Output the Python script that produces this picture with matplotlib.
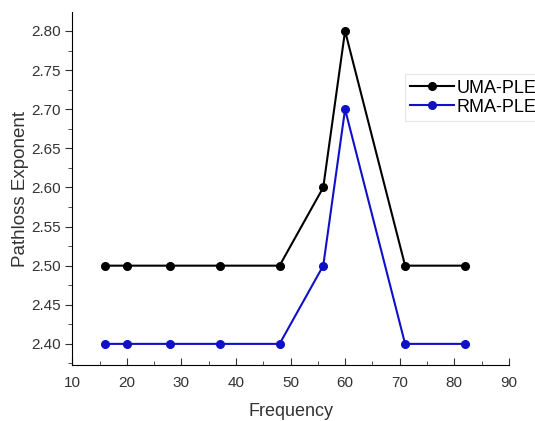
import numpy as np
import matplotlib.pyplot as plt
from matplotlib.ticker import MultipleLocator

plt.rcParams['font.family'] = ['Liberation Sans', 'DejaVu Sans']

freq = [16, 20, 28, 37, 48, 56, 60, 71, 82]
uma_ple = [2.50, 2.50, 2.50, 2.50, 2.50, 2.60, 2.80, 2.50, 2.50]
rma_ple = [2.40, 2.40, 2.40, 2.40, 2.40, 2.50, 2.70, 2.40, 2.40]

fig = plt.figure(figsize=(5.35, 4.21), dpi=100)
ax = fig.add_axes([0.135, 0.133, 0.816, 0.838])

ax.plot(freq, uma_ple, color='black', lw=1.5, marker='o', ms=5.5, label='UMA-PLE')
ax.plot(freq, rma_ple, color='#1010c8', lw=1.5, marker='o', ms=5.5, label='RMA-PLE')

ax.set_xlim(10, 90)
ax.set_ylim(2.373, 2.824)
ax.xaxis.set_major_locator(MultipleLocator(10))
ax.xaxis.set_minor_locator(MultipleLocator(5))
ax.yaxis.set_major_locator(MultipleLocator(0.05))
ax.yaxis.set_minor_locator(MultipleLocator(0.025))
ax.yaxis.set_major_formatter(plt.FormatStrFormatter('%.2f'))

ax.spines['top'].set_visible(False)
ax.spines['right'].set_visible(False)
ax.tick_params(axis='x', which='both', direction='in', labelsize=11, colors='#333333', pad=8)
ax.tick_params(axis='y', which='both', direction='out', labelsize=11, colors='#333333')
ax.tick_params(which='major', length=5)
ax.tick_params(which='minor', length=3)

ax.set_xlabel('Frequency', fontsize=13, color='#333333', labelpad=9)
ax.set_ylabel('Pathloss Exponent', fontsize=13.5, color='#333333', labelpad=1)

leg = ax.legend(loc='upper left', bbox_to_anchor=(0.74, 0.845), bbox_transform=fig.transFigure,
                fontsize=13, frameon=True, fancybox=False, handlelength=2.4,
                handletextpad=0.15, borderpad=0.3, labelspacing=0.1)
leg.get_frame().set_edgecolor('#e0e0e0')
leg.get_frame().set_linewidth(0.8)

fig.savefig('out.png', dpi=100)
